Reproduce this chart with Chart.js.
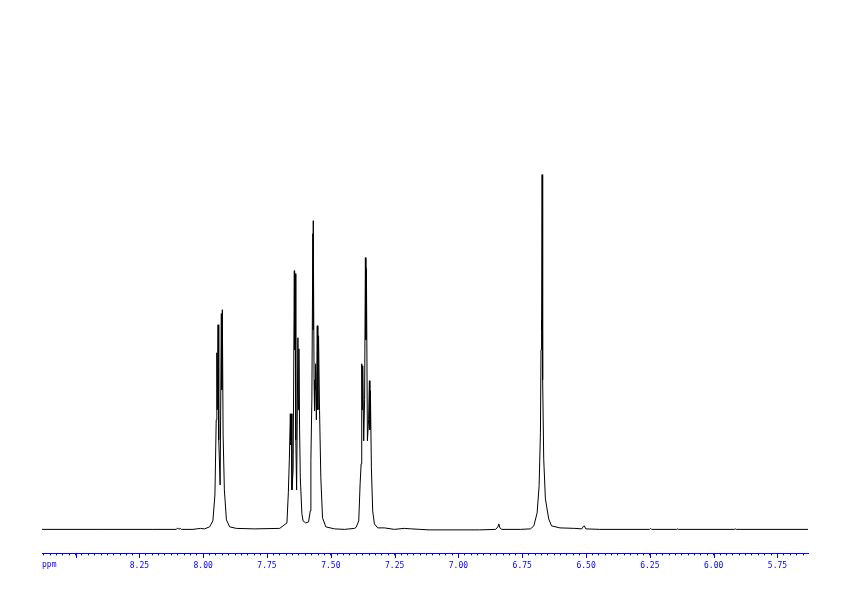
<!DOCTYPE html>
<html>
<head>
<meta charset="utf-8">
<script src="https://cdn.jsdelivr.net/npm/chart.js@4.4.1/dist/chart.umd.min.js"></script>
<style>
  html, body { margin: 0; padding: 0; background: #ffffff; }
  #wrap { width: 842px; height: 596px; position: relative; }
</style>
</head>
<body>
<div id="wrap"><canvas id="nmr"></canvas></div>
<script>
  // chemical shift (ppm), left to right
  const ppmValues = [
    8.6315, 8.40, 8.20, 8.105, 8.100, 8.095, 8.090, 8.085, 8.04, 8.010, 7.995,
    7.975, 7.962, 7.954, 7.949, 7.9465, 7.9449, 7.9418, 7.939, 7.9336, 7.9289,
    7.927, 7.925, 7.922, 7.917, 7.909, 7.896, 7.87, 7.80, 7.70, 7.6719,
    7.6664, 7.6625, 7.6586, 7.6566, 7.6547, 7.6523, 7.6477, 7.643, 7.6418, 7.6398,
    7.6371, 7.634, 7.6289, 7.627, 7.625, 7.6223, 7.6195, 7.6133, 7.6086, 7.5988,
    7.5871, 7.5805, 7.5781, 7.5742, 7.5703, 7.5695, 7.5688, 7.5656, 7.5637, 7.5617,
    7.5598, 7.5566, 7.5531, 7.5508, 7.548, 7.5441, 7.5391, 7.5324, 7.5195, 7.4855,
    7.4465, 7.4074, 7.4008, 7.3906, 7.3852, 7.3813, 7.3789, 7.377, 7.375, 7.3711,
    7.3676, 7.3645, 7.3625, 7.3605, 7.3566, 7.352, 7.3488, 7.3469, 7.3449, 7.341,
    7.3359, 7.3293, 7.3164, 7.2902, 7.2512, 7.2121, 7.1848, 7.1145, 6.918, 6.8543,
    6.8455, 6.8416, 6.8377, 6.8299, 6.7566, 6.7175, 6.7046, 6.6917, 6.6839, 6.6788,
    6.6765, 6.6749, 6.6737, 6.6722, 6.6706, 6.6694, 6.6659, 6.6593, 6.6464, 6.6351,
    6.6026, 6.544, 6.5167, 6.5108, 6.5069, 6.501, 6.4464, 6.251, 6.2471, 6.2432,
    6.1455, 6.1416, 6.1377, 5.919, 5.915, 5.9111, 5.6305
  ];
  // signal intensity (arbitrary units)
  const intensities = [
    0.5, 0.5, 0.5, 0.5, 2, 0.5, 1.5, 0.5, 0.5, 1.5, 1,
    3, 9, 35, 110, 177, 120, 205, 90, 45, 216,
    140, 220, 95, 40, 10, 3, 1.5, 1, 1.5, 7,
    37, 70, 116, 85, 116, 40, 60, 259, 180, 256,
    90, 40, 192, 120, 181, 100, 52, 16, 9, 7,
    8, 19, 69, 131, 296, 200, 309, 150, 119, 140,
    166, 110, 204, 120, 194, 119, 52, 12, 3, 1,
    0.5, 1.5, 2.5, 9, 46, 66, 166, 120, 164, 89,
    130, 272, 190, 261, 89, 110, 149, 100, 139, 62,
    19, 6, 2, 2, 0.5, 1.5, 1, 0, 0, 0.5,
    3, 6, 2, 0.5, 0.5, 1, 4, 17, 44, 97,
    180, 209, 200, 355, 200, 150, 71, 31, 11, 4,
    2, 1.5, 1, 3.5, 4, 1, 0.5, 0.5, 1.5, 0.5,
    0.5, 1, 0.5, 0.5, 1, 0.5, 0.5
  ];
  const majorTicks = [8.25, 8.00, 7.75, 7.50, 7.25, 7.00, 6.75, 6.50, 6.25, 6.00, 5.75];
  const tickLabels = ['8.25', '8.00', '7.75', '7.50', '7.25', '7.00', '6.75', '6.50', '6.25', '6.00', '5.75'];
  const unlabeledMajor = [8.50];
  const axisUnit = 'ppm';

  const blue = '#0000ff';
  const tickFont = { family: 'DejaVu Sans Mono', size: 8 };

  // longer marks for the major ticks, plus the unit text at the left end
  const axisExtras = {
    id: 'axisExtras',
    afterDraw(chart) {
      const ctx = chart.ctx;
      const xs = chart.scales.x;
      const y0 = Math.round(chart.chartArea.bottom);
      ctx.save();
      ctx.strokeStyle = blue;
      ctx.lineWidth = 1;
      unlabeledMajor.concat(majorTicks).forEach(v => {
        const px = Math.round(xs.getPixelForValue(v)) + 0.5;
        ctx.beginPath();
        ctx.moveTo(px, y0);
        ctx.lineTo(px, y0 + 5);
        ctx.stroke();
      });
      ctx.fillStyle = blue;
      ctx.font = '8px "DejaVu Sans Mono"';
      ctx.textBaseline = 'middle';
      ctx.textAlign = 'left';
      ctx.fillText(axisUnit, chart.chartArea.left, y0 + 12);
      ctx.restore();
    }
  };

  new Chart(document.getElementById('nmr'), {
    type: 'line',
    data: {
      datasets: [{
        data: ppmValues.map((p, i) => ({ x: p, y: intensities[i] })),
        borderColor: '#000000',
        borderWidth: 1,
        pointRadius: 0,
        tension: 0,
        fill: false
      }]
    },
    options: {
      responsive: true,
      maintainAspectRatio: false,
      animation: false,
      layout: { padding: { left: 42, right: 34, top: 0, bottom: 19 } },
      plugins: {
        legend: { display: false },
        tooltip: { enabled: false }
      },
      scales: {
        x: {
          type: 'linear',
          reverse: true,
          min: 5.6305,
          max: 8.6315,
          border: { display: true, color: blue, width: 1 },
          grid: {
            drawOnChartArea: false,
            drawTicks: true,
            tickLength: 2,
            tickColor: blue
          },
          ticks: {
            stepSize: 0.025,
            includeBounds: false,
            autoSkip: false,
            maxRotation: 0,
            minRotation: 0,
            padding: 6,
            color: blue,
            font: tickFont,
            callback: function (value) {
              const idx = majorTicks.findIndex(m => Math.abs(m - value) < 1e-6);
              return idx >= 0 ? tickLabels[idx] : '';
            }
          }
        },
        y: {
          display: false,
          min: -23.5,
          max: 529.5
        }
      }
    },
    plugins: [axisExtras]
  });
</script>
</body>
</html>
